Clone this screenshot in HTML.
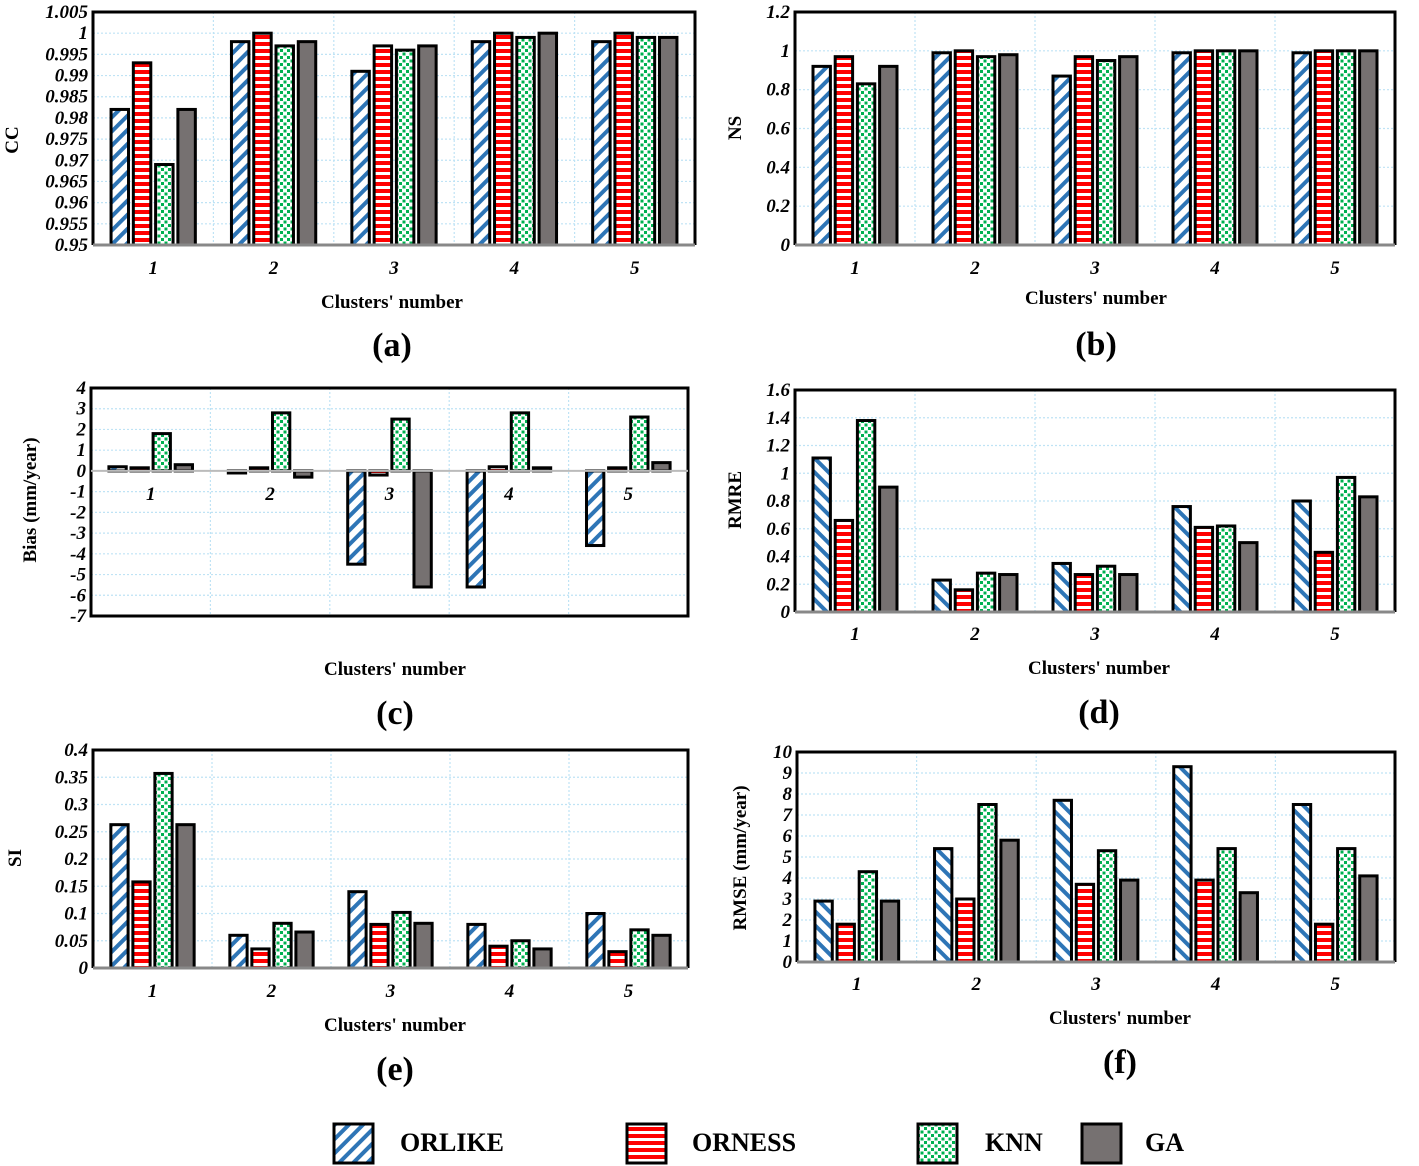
<!DOCTYPE html>
<html><head><meta charset="utf-8"><style>
html,body{margin:0;padding:0;background:#fff;}
svg{display:block;}
text{font-family:"Liberation Serif",serif;font-weight:bold;fill:#000;}
</style></head><body>
<svg id="fig" width="1419" height="1166" viewBox="0 0 1419 1166" xmlns="http://www.w3.org/2000/svg">
<defs>
<pattern id="pOrlike" patternUnits="userSpaceOnUse" width="10" height="10" patternTransform="rotate(45)">
<rect width="10" height="10" fill="#fff"/><rect width="4" height="10" fill="#2e75b6"/></pattern>
<pattern id="pOrlike2" patternUnits="userSpaceOnUse" width="10" height="10" patternTransform="rotate(-45)">
<rect width="10" height="10" fill="#fff"/><rect width="4" height="10" fill="#2e75b6"/></pattern>
<pattern id="pOrness" patternUnits="userSpaceOnUse" width="10" height="7">
<rect width="10" height="7" fill="#fff"/><rect width="10" height="4" fill="#ff0000"/></pattern>
<pattern id="pKnn" patternUnits="userSpaceOnUse" width="7" height="7">
<rect width="7" height="7" fill="#fff"/><rect x="0" y="0" width="3" height="3" fill="#00b050"/><rect x="3.5" y="3.5" width="3" height="3" fill="#00b050"/></pattern>
</defs>
</svg>
<script>
const seriesNames = ['ORLIKE','ORNESS','KNN','GA'];
const categories = ['1','2','3','4','5'];
const ccORLIKE = [0.982,0.998,0.991,0.998,0.998];
const ccORNESS = [0.993,1.0,0.997,1.0,1.0];
const ccKNN = [0.969,0.997,0.996,0.999,0.999];
const ccGA = [0.982,0.998,0.997,1.0,0.999];
const ccTicks = ['0.95','0.955','0.96','0.965','0.97','0.975','0.98','0.985','0.99','0.995','1','1.005'];
const nsORLIKE = [0.92,0.99,0.87,0.99,0.99];
const nsORNESS = [0.97,1.0,0.97,1.0,1.0];
const nsKNN = [0.83,0.97,0.95,1.0,1.0];
const nsGA = [0.92,0.98,0.97,1.0,1.0];
const nsTicks = ['0','0.2','0.4','0.6','0.8','1','1.2'];
const biasORLIKE = [0.2,-0.1,-4.5,-5.6,-3.6];
const biasORNESS = [0.15,0.15,-0.2,0.2,0.15];
const biasKNN = [1.8,2.8,2.5,2.8,2.6];
const biasGA = [0.3,-0.3,-5.6,0.15,0.4];
const biasTicks = ['-7','-6','-5','-4','-3','-2','-1','0','1','2','3','4'];
const rmreORLIKE = [1.11,0.23,0.35,0.76,0.8];
const rmreORNESS = [0.66,0.16,0.27,0.61,0.43];
const rmreKNN = [1.38,0.28,0.33,0.62,0.97];
const rmreGA = [0.9,0.27,0.27,0.5,0.83];
const rmreTicks = ['0','0.2','0.4','0.6','0.8','1','1.2','1.4','1.6'];
const siORLIKE = [0.263,0.06,0.14,0.08,0.1];
const siORNESS = [0.158,0.035,0.08,0.04,0.03];
const siKNN = [0.357,0.082,0.102,0.05,0.07];
const siGA = [0.263,0.066,0.082,0.035,0.06];
const siTicks = ['0','0.05','0.1','0.15','0.2','0.25','0.3','0.35','0.4'];
const rmseORLIKE = [2.9,5.4,7.7,9.3,7.5];
const rmseORNESS = [1.8,3.0,3.7,3.9,1.8];
const rmseKNN = [4.3,7.5,5.3,5.4,5.4];
const rmseGA = [2.9,5.8,3.9,3.3,4.1];
const rmseTicks = ['0','1','2','3','4','5','6','7','8','9','10'];

const NS='http://www.w3.org/2000/svg';
const svg=document.getElementById('fig');
function el(tag,attrs,parent){const e=document.createElementNS(NS,tag);for(const k in attrs)e.setAttribute(k,attrs[k]);(parent||svg).appendChild(e);return e;}
const fills=['url(#pOrlike)','url(#pOrness)','url(#pKnn)','#767171'];

function panel(cfg){
  const g=el('g',{});
  
  
  const {x0,x1,y0,y1,min,max}=cfg;
  const ys=v=>y1-(v-min)/(max-min)*(y1-y0);
  const gw=(x1-x0)/categories.length;
  const xc=i=>x0+gw*(i+0.5);
  cfg.ticks.forEach(t=>{const y=ys(parseFloat(t));
    const gl=el('line',{x1:x0,x2:x1,y1:y,y2:y,stroke:'#bfe3f5','stroke-width':1.2,'stroke-dasharray':'2,2'},g);
    
    
    const tl=el('text',{x:x0-5,y:y+6,'text-anchor':'end','font-size':19,'font-style':'italic'},g);
    tl.textContent=t;
    
    
  });
  for(let i=1;i<categories.length;i++){const x=x0+gw*i;
    const vl=el('line',{x1:x,x2:x,y1:y0,y2:y1,stroke:'#bfe3f5','stroke-width':1.2,'stroke-dasharray':'2,2'},g);
    
    }
  const bw=gw*0.145, pitch=gw*0.185;
  const zero=ys(Math.max(min,0));
  cfg.series.forEach((arr,s)=>{
    arr.forEach((v,i)=>{
      const x=xc(i)-1.5*pitch+s*pitch-bw/2;
      const yv=ys(v);
      const top=Math.min(yv,zero), h=Math.max(Math.abs(zero-yv),1);
      let f=fills[s]; if(s===0&&cfg.alt) f='url(#pOrlike2)';
      const r=el('rect',{x:x,y:top,width:bw,height:h,fill:f,stroke:'#000','stroke-width':3},g);
      
      
    });
  });
  if(cfg.full){
    const fr=el('rect',{x:x0,y:y0,width:x1-x0,height:y1-y0,fill:'none',stroke:'#000','stroke-width':3},g);
    
    
    const zl=el('line',{x1:x0,x2:x1,y1:zero,y2:zero,stroke:'#bbb','stroke-width':2},g);
    
    
  } else {
    const fr=el('path',{d:`M${x0},${y1} L${x0},${y0} L${x1},${y0} L${x1},${y1}`,fill:'none',stroke:'#000','stroke-width':3},g);
    
    
    const ax=el('line',{x1:x0,x2:x1,y1:y1,y2:y1,stroke:'#888','stroke-width':3},g);
    
    
  }
  categories.forEach((c,i)=>{
    const t=el('text',{x:xc(i),y:cfg.catY,'text-anchor':'middle','font-size':19,'font-style':'italic'},g);
    t.textContent=c;
    
    
  });
  const xt=el('text',{x:cfg.xtX,y:cfg.xtY,'text-anchor':'middle','font-size':19},g);
  xt.textContent="Clusters' number";
  
  
  const yt=el('text',{x:0,y:0,'text-anchor':'middle','font-size':19,transform:`translate(${cfg.ytX},${cfg.ytY}) rotate(-90)`},g);
  yt.textContent=cfg.ytitle;
  
  
  const pl=el('text',{x:cfg.xtX,y:cfg.plY,'text-anchor':'middle','font-size':34},g);
  pl.textContent=cfg.label;
  
  
}

panel({name:'panel-a-cc',x0:93,x1:695,y0:12,y1:245,min:0.95,max:1.005,ticks:ccTicks,series:[ccORLIKE,ccORNESS,ccKNN,ccGA],catY:274,xtX:392,xtY:308,ytX:18,ytY:140,ytitle:'CC',plY:356,label:'(a)'});
panel({name:'panel-b-ns',x0:795,x1:1395,y0:12,y1:245,min:0,max:1.2,ticks:nsTicks,series:[nsORLIKE,nsORNESS,nsKNN,nsGA],catY:274,xtX:1096,xtY:304,ytX:741,ytY:128,ytitle:'NS',plY:355,label:'(b)'});
panel({name:'panel-c-bias',x0:91,x1:688,y0:388,y1:616,min:-7,max:4,ticks:biasTicks,series:[biasORLIKE,biasORNESS,biasKNN,biasGA],catY:500,xtX:395,xtY:675,ytX:36,ytY:500,ytitle:'Bias (mm/year)',plY:724,label:'(c)',full:true});
panel({name:'panel-d-rmre',x0:795,x1:1395,y0:390,y1:612,min:0,max:1.6,ticks:rmreTicks,series:[rmreORLIKE,rmreORNESS,rmreKNN,rmreGA],catY:640,xtX:1099,xtY:674,ytX:741,ytY:500,ytitle:'RMRE',plY:723,label:'(d)',alt:true});
panel({name:'panel-e-si',x0:93,x1:688,y0:750,y1:968,min:0,max:0.4,ticks:siTicks,series:[siORLIKE,siORNESS,siKNN,siGA],catY:997,xtX:395,xtY:1031,ytX:21,ytY:858,ytitle:'SI',plY:1080,label:'(e)'});
panel({name:'panel-f-rmse',x0:797,x1:1395,y0:752,y1:962,min:0,max:10,ticks:rmseTicks,series:[rmseORLIKE,rmseORNESS,rmseKNN,rmseGA],catY:990,xtX:1120,xtY:1024,ytX:746,ytY:858,ytitle:'RMSE (mm/year)',plY:1073,label:'(f)',alt:true});

const legX=[334,627,918,1082], legTX=[400,692,985,1145];
seriesNames.forEach((n,s)=>{
  const r=el('rect',{x:legX[s],y:1124,width:39,height:39,fill:fills[s],stroke:'#000','stroke-width':3});
  
  
  const t=el('text',{x:legTX[s],y:1151,'font-size':26});
  t.textContent=n;
  
  
});
</script>
</body></html>
